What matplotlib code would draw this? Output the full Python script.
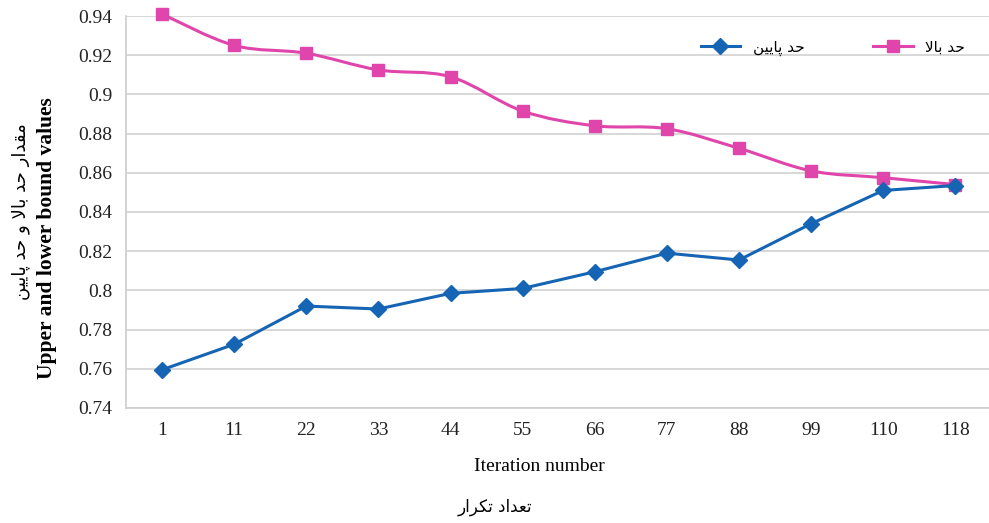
import matplotlib
matplotlib.use('Agg')
import matplotlib.pyplot as plt
from matplotlib.path import Path
from matplotlib.patches import PathPatch
from matplotlib.lines import Line2D
import numpy as np

iterations = ['1', '11', '22', '33', '44', '55', '66', '77', '88', '99', '110', '118']
upper = [0.941, 0.925, 0.921, 0.9125, 0.909, 0.8915, 0.884, 0.8825, 0.8725, 0.861, 0.8575, 0.854]
lower = [0.7595, 0.7725, 0.792, 0.7905, 0.7985, 0.801, 0.8095, 0.819, 0.8155, 0.834, 0.851, 0.8535]
yticks = [0.74, 0.76, 0.78, 0.8, 0.82, 0.84, 0.86, 0.88, 0.9, 0.92, 0.94]


def fa(*codes):
    # presentation forms given in logical order, drawn right to left
    return ''.join(chr(c) for c in reversed(codes))


had = [0xFEA3, 0xFEAA]
bala = [0xFE91, 0xFE8E, 0xFEFB]
paein = [0xFB58, 0xFE8E, 0xFBFE, 0xFBFF, 0xFEE6]
sp = [0x20]
lbl_upper = fa(*(had + sp + bala))
lbl_lower = fa(*(had + sp + paein))
lbl_y_fa = fa(*([0xFEE3, 0xFED8, 0xFEAA, 0xFE8D, 0xFEAD] + sp + had + sp + bala + sp
                + [0xFEED] + sp + had + sp + paein))
lbl_x_fa = fa(0xFE97, 0xFECC, 0xFEAA, 0xFE8D, 0xFEA9, 0x20,
              0xFE97, 0xFB91, 0xFEAE, 0xFE8D, 0xFEAD)

serif = ['Liberation Serif', 'DejaVu Serif']
arabic = ['DejaVu Sans']
plt.rcParams['font.family'] = serif

blue = '#1565b4'
pink = '#e045ab'

fig = plt.figure(figsize=(9.89, 5.23), dpi=100)
ax = fig.add_axes([0.1274, 0.2199, 0.875, 0.7495])

x = np.arange(len(iterations))

# smoothed upper bound curve (Catmull-Rom as cubic Beziers)
pts = np.column_stack([x, upper])
verts = [pts[0]]
codes = [Path.MOVETO]
for i in range(len(pts) - 1):
    p0 = pts[max(i - 1, 0)]
    p1 = pts[i]
    p2 = pts[i + 1]
    p3 = pts[min(i + 2, len(pts) - 1)]
    verts += [p1 + (p2 - p0) / 6, p2 - (p3 - p1) / 6, p2]
    codes += [Path.CURVE4] * 3
ax.add_patch(PathPatch(Path(verts, codes), facecolor='none', edgecolor=pink, lw=2.2,
                       zorder=3, clip_on=False))
ax.plot(x, upper, ls='none', marker='s', ms=9, color=pink, zorder=4, clip_on=False)

ax.plot(x, lower, color=blue, lw=2.2, marker='D', ms=8, zorder=4, clip_on=False)

ax.set_xlim(-0.5, len(iterations) - 0.5)
ax.set_ylim(0.74, 0.94)
ax.set_yticks(yticks)
ax.set_yticklabels(['%g' % v for v in yticks])
ax.set_xticks(x)
ax.set_xticklabels(iterations)
ax.tick_params(length=0, labelsize=14, colors='#222222')
ax.tick_params(axis='y', pad=10)
ax.tick_params(axis='x', pad=10)
ax.grid(axis='y', color='#d4d4d4', lw=1.3)
ax.set_axisbelow(True)
for s in ['top', 'right']:
    ax.spines[s].set_visible(False)
for s in ['left', 'bottom']:
    ax.spines[s].set_color('#d0d0d0')
    ax.spines[s].set_linewidth(1.3)

handles = [Line2D([], [], color=blue, lw=2.2, marker='D', ms=8),
           Line2D([], [], color=pink, lw=2.2, marker='s', ms=9)]
ax.legend(handles, [lbl_lower, lbl_upper], ncol=2, loc='upper right',
          bbox_to_anchor=(0.985, 0.975), frameon=False, columnspacing=4.5,
          handlelength=2.6, prop={'family': arabic, 'size': 11})

fig.text(0.0475, 0.545, 'Upper and lower bound values', rotation=90, ha='center', va='center',
         fontsize=15.5, fontweight='bold')
fig.text(0.021, 0.596, lbl_y_fa, rotation=90, ha='center', va='center',
         fontsize=13, family=arabic)
fig.text(0.545, 0.108, 'Iteration number', ha='center', va='center', fontsize=14)
fig.text(0.5, 0.03, lbl_x_fa, ha='center', va='center', fontsize=12, family=arabic)

fig.savefig('out.png', dpi=100)
